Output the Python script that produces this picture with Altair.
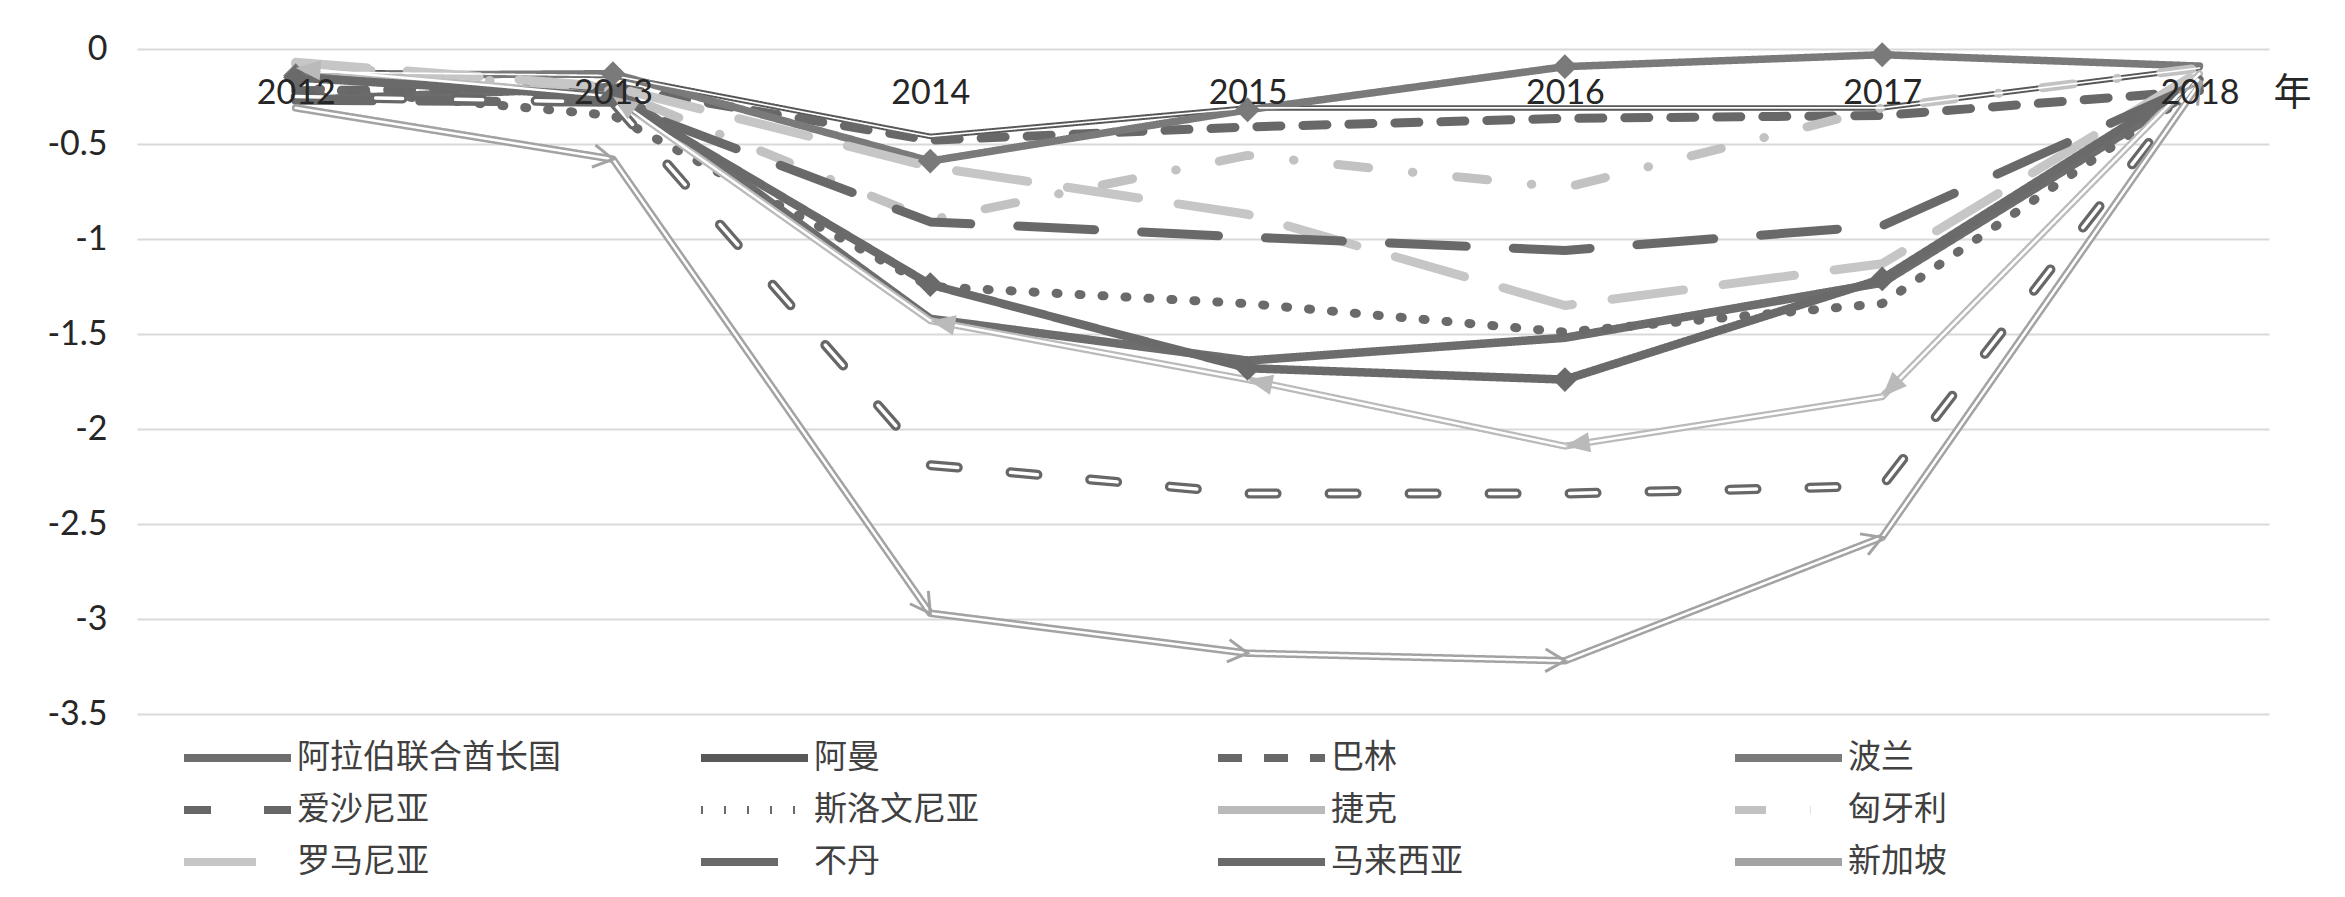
import math
import altair as alt
import pandas as pd

years = [2012, 2013, 2014, 2015, 2016, 2017, 2018]
countries = ["阿拉伯联合酋长国", "阿曼", "巴林", "波兰", "爱沙尼亚", "斯洛文尼亚",
             "捷克", "匈牙利", "罗马尼亚", "不丹", "马来西亚", "新加坡"]

uae = [-0.27, -0.20, -1.42, -1.64, -1.52, -1.23, -0.20]
oman = [-0.12, -0.14, -0.46, -0.31, -0.31, -0.31, -0.10]
bahrain = [-0.22, -0.20, -0.48, -0.41, -0.365, -0.35, -0.22]
poland = [-0.14, -0.13, -0.59, -0.32, -0.093, -0.03, -0.09]
estonia = [-0.25, -0.28, -2.19, -2.34, -2.34, -2.30, -0.15]
slovenia = [-0.20, -0.35, -1.25, -1.34, -1.49, -1.34, -0.20]
czech = [-0.10, -0.25, -1.43, -1.74, -2.09, -1.83, -0.13]
hungary = [-0.08, -0.22, -0.90, -0.56, -0.73, -0.31, -0.10]
romania = [-0.07, -0.20, -0.62, -0.87, -1.35, -1.13, -0.12]
bhutan = [-0.27, -0.28, -0.91, -0.99, -1.06, -0.93, -0.18]
malaysia = [-0.15, -0.25, -1.24, -1.68, -1.74, -1.21, -0.16]
singapore = [-0.31, -0.58, -2.97, -3.18, -3.22, -2.57, -0.18]
series = [uae, oman, bahrain, poland, estonia, slovenia, czech, hungary,
          romania, bhutan, malaysia, singapore]

y_ticks = [0, -0.5, -1, -1.5, -2, -2.5, -3, -3.5]

# styles
colors = ["#6d6d6d", "#585858", "#686868", "#7a7a7a", "#676767", "#6a6a6a",
          "#bababa", "#c2c2c2", "#c6c6c6", "#696969", "#6a6a6a", "#a3a3a3"]
widths = [8.5, 5.5, 9, 7.5, 10, 9, 7, 9, 9, 9, 8.5, 7.5]
inner = [0, 1.6, 0, 0, 3.5, 0, 2.5, 0, 0, 0, 0, 2.5]
dashes = [[1, 0], [1, 0], [24, 22], [1, 0], [27, 53], [2, 21], [1, 0],
          [31, 44, 0.5, 44], [72, 40], [77, 47], [1, 0], [1, 0]]

W, H = 2132, 665
X_DOMAIN = [2011.5, 2018.219]
px_x = W / (X_DOMAIN[1] - X_DOMAIN[0])
px_y = H / 3.5

rows = []
for ci, (c, vals) in enumerate(zip(countries, series)):
    for i, (yr, v) in enumerate(zip(years, vals)):
        ang_begin = None
        ang_end = None
        if i < len(years) - 1:
            dX = -px_x * (years[i + 1] - yr)
            dY = -px_y * (v - vals[i + 1])
            ang_begin = (math.degrees(math.atan2(dY, dX)) + 90) % 360
        if i > 0:
            dX = px_x * (yr - years[i - 1])
            dY = -px_y * (v - vals[i - 1])
            ang_end = (math.degrees(math.atan2(dY, dX)) + 90) % 360
        rows.append({"country": c, "year": yr, "value": v, "w": widths[ci],
                     "inner": inner[ci], "mcolor": colors[ci],
                     "ang_b": ang_begin, "ang_e": ang_end, "idx": i})
df = pd.DataFrame(rows)

x_enc = alt.X("year:Q",
              scale=alt.Scale(domain=X_DOMAIN, nice=False, zero=False),
              axis=alt.Axis(values=years, orient="bottom", offset=-H, grid=False,
                            domain=False, ticks=False, tickSize=0, zindex=1,
                            labelFont="Lato", labelFontSize=34, labelColor="#262626",
                            labelPadding=44, labelBaseline="middle",
                            labelExpr="'' + datum.value", labelFlush=False,
                            labelOverlap=False,
                            title="年", titleFont="Noto Sans CJK SC", titleFontSize=38,
                            titleFontWeight="normal", titleColor="#262626",
                            titleX=2155, titleY=44, titleBaseline="middle",
                            titleAlign="center", titleAngle=0))
y_enc = alt.Y("value:Q",
              scale=alt.Scale(domain=[-3.5, 0], nice=False),
              axis=alt.Axis(values=y_ticks, grid=True, gridColor="#d9d9d9", gridWidth=2,
                            domain=False, ticks=False, tickSize=0,
                            labelFont="Lato", labelFontSize=34, labelColor="#262626",
                            labelPadding=30, labelExpr="'' + datum.value", title=None))

legend = alt.Legend(title=None, orient="none", legendX=43, legendY=693, columns=4,
                    direction="horizontal",
                    gridAlign="all", columnPadding=136, rowPadding=19,
                    symbolType="stroke", symbolSize=11449, symbolStrokeWidth=8,
                    clipHeight=32, labelFont="Noto Sans CJK SC", labelFontSize=33,
                    labelColor="#404040", labelOffset=2, labelLimit=600,
                    symbolOffset=0, padding=0)

color_scale = alt.Scale(domain=countries, range=colors)
dash_scale = alt.Scale(domain=countries, range=dashes)

base = alt.Chart(df)

lines = base.mark_line(strokeCap="round", strokeJoin="round").encode(
    x=x_enc, y=y_enc,
    color=alt.Color("country:N", scale=color_scale, legend=legend, sort=countries),
    strokeDash=alt.StrokeDash("country:N", scale=dash_scale, legend=legend, sort=countries),
    strokeWidth=alt.StrokeWidth("w:Q", scale=None),
)

inner_lines = base.transform_filter("datum.inner > 0").mark_line(
    strokeCap="round", strokeJoin="round", color="white").encode(
    x="year:Q", y="value:Q",
    detail="country:N",
    strokeDash=alt.StrokeDash("country:N", scale=dash_scale, legend=legend, sort=countries),
    strokeWidth=alt.StrokeWidth("inner:Q", scale=None),
)

diamonds = base.transform_filter(
    "(datum.country == '波兰' || datum.country == '马来西亚') && datum.idx < 6"
).mark_point(shape="diamond", filled=True, size=620, opacity=1).encode(
    x="year:Q", y="value:Q",
    fill=alt.Fill("mcolor:N", scale=None),
)

czech_arrows = base.transform_filter(
    "datum.country == '捷克' && datum.idx < 6"
).mark_point(shape="M0,0L0.65,1.6L-0.65,1.6Z", filled=True, size=975, opacity=1).encode(
    x="year:Q", y="value:Q",
    fill=alt.Fill("mcolor:N", scale=None),
    angle=alt.Angle("ang_b:Q", scale=None),
)

sg_arrows = base.transform_filter(
    "datum.country == '新加坡' && datum.idx > 0"
).mark_point(shape="M-0.75,1.3L0,0L0.75,1.3", filled=False, size=900, opacity=1,
             strokeWidth=3).encode(
    x="year:Q", y="value:Q",
    stroke=alt.Stroke("mcolor:N", scale=None),
    angle=alt.Angle("ang_e:Q", scale=None),
)

chart = alt.layer(lines, inner_lines, diamonds, czech_arrows, sg_arrows).properties(
    width=W, height=H,
    autosize=alt.AutoSizeParams(type="none"),
    padding={"left": 129, "top": 41, "right": 68, "bottom": 175},
    background="white",
).configure_view(stroke=None)

chart.save("out.html", embed_options={"renderer": "svg", "actions": False})
